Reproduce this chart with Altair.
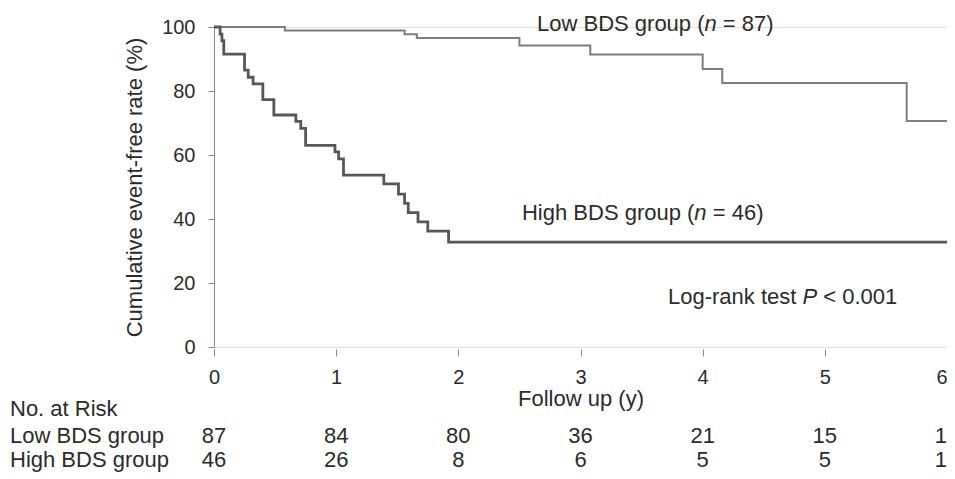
import altair as alt
import pandas as pd

# ---- data ----
low_time = [0, 0.58, 1.56, 1.66, 2.50, 3.08, 4.00, 4.16, 5.67, 6.0]
low_surv = [100, 98.9, 97.7, 96.6, 94.2, 91.4, 86.9, 82.5, 70.6, 70.6]

high_time = [0, 0.05, 0.065, 0.08, 0.25, 0.28, 0.32, 0.40, 0.49, 0.67, 0.71, 0.75,
             0.99, 1.02, 1.06, 1.39, 1.51, 1.56, 1.59, 1.67, 1.75, 1.92, 6.0]
high_surv = [100, 97.8, 95.7, 91.5, 86.5, 84.3, 82.2, 77.3, 72.5, 70.5, 68.3, 63.0,
             61.0, 58.8, 53.7, 51.0, 47.8, 44.9, 42.0, 39.1, 36.2, 32.8, 32.8]

risk_years = [0, 1, 2, 3, 4, 5, 6]
low_risk = [87, 84, 80, 36, 21, 15, 1]
high_risk = [46, 26, 8, 6, 5, 5, 1]

x_ticks = [0, 1, 2, 3, 4, 5, 6]
y_ticks = [0, 20, 40, 60, 80, 100]

FONT = "Liberation Sans"
TXT = "#2b2b2b"
AX = "#8a8a8a"
FS = 22

curves = pd.concat([
    pd.DataFrame({"time": low_time, "surv": low_surv, "group": "Low"}),
    pd.DataFrame({"time": high_time, "surv": high_surv, "group": "High"}),
])
risk = pd.DataFrame({"time": risk_years, "low": low_risk, "high": high_risk})

xs = alt.Scale(domain=[0, 6], nice=False)
ys = alt.Scale(domain=[0, 100], nice=False)

x_axis = alt.Axis(values=x_ticks, title="Follow up (y)", grid=False, domain=False,
                  ticks=True, tickSize=7, offset=2, tickColor=AX, tickWidth=1,
                  labelFontSize=20, labelFont=FONT, labelColor=TXT, labelPadding=11,
                  labelFlush=False, labelAngle=0, format="d",
                  labelAlign={"condition": {"test": "datum.value == 6", "value": "right"},
                              "value": "center"},
                  titleFontSize=FS, titleFont=FONT, titleFontWeight="normal",
                  titleColor=TXT, titlePadding=1)
y_axis = alt.Axis(values=y_ticks, title="Cumulative event-free rate (%)", grid=False,
                  domain=True, domainColor=AX, domainWidth=1, ticks=True, tickSize=6,
                  tickColor=AX, tickWidth=1, labelFontSize=20, labelFont=FONT,
                  labelColor=TXT, labelPadding=13, format="d",
                  titleFontSize=FS, titleFont=FONT, titleFontWeight="normal",
                  titleColor=TXT, titlePadding=15)

low_line = alt.Chart(curves).transform_filter(alt.datum.group == "Low").mark_line(
    interpolate="step-after", color="#7d7d7d", strokeWidth=2
).encode(x=alt.X("time:Q", scale=xs, axis=x_axis), y=alt.Y("surv:Q", scale=ys, axis=y_axis))

high_line = alt.Chart(curves).transform_filter(alt.datum.group == "High").mark_line(
    interpolate="step-after", color="#575757", strokeWidth=2.8
).encode(x=alt.X("time:Q", scale=xs), y=alt.Y("surv:Q", scale=ys))


def txt(text, x, y, dx=0, italic=False, align="left"):
    df = pd.DataFrame({"time": [x], "surv": [y], "t": [text]})
    return alt.Chart(df).mark_text(
        align=align, baseline="middle", font=FONT, fontSize=FS, color=TXT, dx=dx,
        fontStyle="italic" if italic else "normal"
    ).encode(x=alt.X("time:Q", scale=xs), y=alt.Y("surv:Q", scale=ys), text="t:N")


def em(s):
    w = {"L": 556, "o": 556, "w": 722, " ": 278, "B": 667, "D": 722, "S": 667, "g": 556,
         "r": 333, "u": 556, "p": 556, "(": 333, "H": 722, "i": 222, "h": 556, "-": 333,
         "a": 556, "n": 556, "k": 500, "t": 278, "e": 556, "s": 500, "P": 667}
    return sum(w.get(c, 556) for c in s) * FS / 1000.0


annots = []
for (pre, it, post, x, y) in [
    ("Low BDS group (", "n", "= 87)", 2.644, 101.0),
    ("High BDS group (", "n", "= 46)", 2.521, 41.8),
    ("Log-rank test ", "P", "< 0.001", 3.716, 15.6),
]:
    w1 = em(pre)
    w2 = em(it) + em(" ")
    annots += [txt(pre, x, y), txt(it, x, y, dx=w1, italic=True),
               txt(post, x, y, dx=w1 + w2)]

risk_main = risk[risk["time"] < 6]
risk_last = risk[risk["time"] >= 6]

Y_LOW = 409
Y_HIGH = 433


def risk_row(df, col, ypix, align):
    return alt.Chart(df).mark_text(font=FONT, fontSize=FS, color=TXT, baseline="middle",
                                   align=align).encode(
        x=alt.X("time:Q", scale=xs), y=alt.value(ypix), text=f"{col}:Q")


risk_marks = [risk_row(risk_main, "low", Y_LOW, "center"), risk_row(risk_main, "high", Y_HIGH, "center"),
              risk_row(risk_last, "low", Y_LOW, "right"), risk_row(risk_last, "high", Y_HIGH, "right")]


def row_label(text, ypix):
    df = pd.DataFrame({"t": [text]})
    return alt.Chart(df).mark_text(align="left", baseline="middle", font=FONT, fontSize=FS,
                                   color=TXT).encode(x=alt.value(-204), y=alt.value(ypix), text="t:N")


labels = [row_label("No. at Risk", 382), row_label("Low BDS group", Y_LOW),
          row_label("High BDS group", Y_HIGH)]

chart = alt.layer(low_line, high_line, *annots, *risk_marks, *labels).properties(
    width=733, height=320,
    padding={"left": 206, "top": 19, "right": 0, "bottom": 128},
    autosize=alt.AutoSizeParams(type="none"),
).configure_view(stroke=None).configure(font=FONT)

chart.save("out.html", embed_options={"renderer": "svg", "actions": False})
